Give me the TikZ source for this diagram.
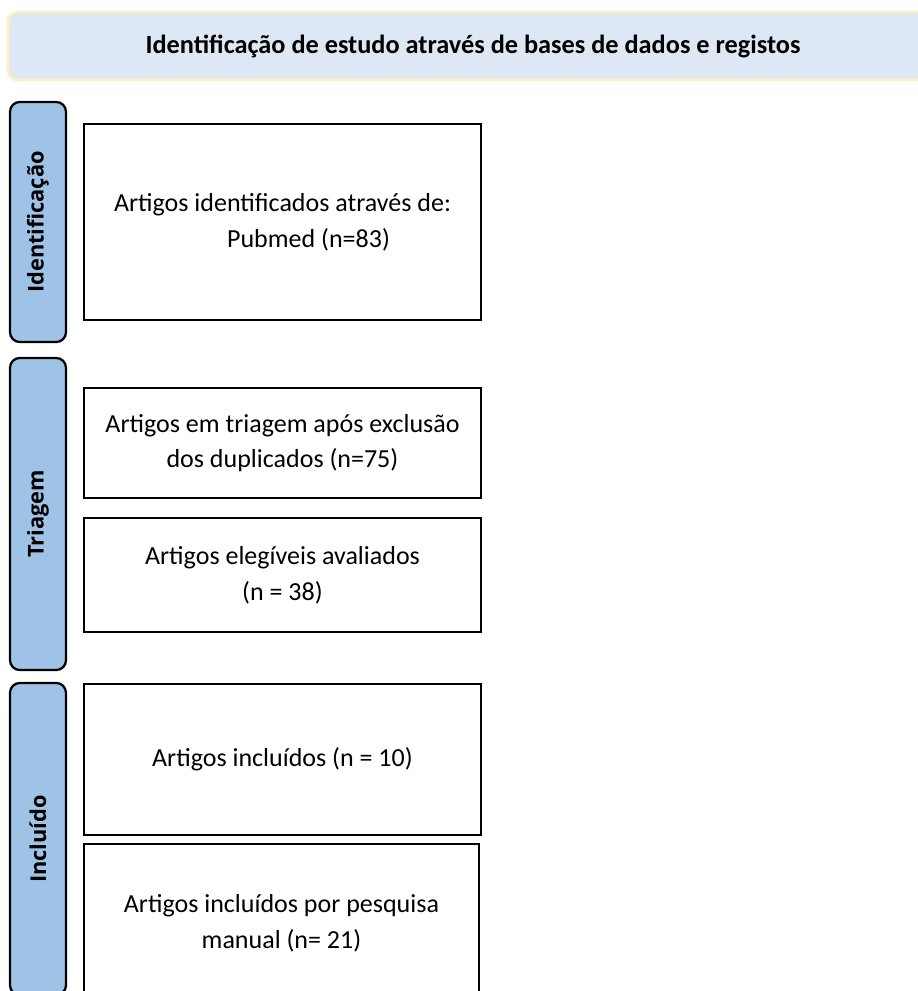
\documentclass[tikz,border=0pt]{standalone}
\usepackage{fontspec}
\setmainfont{Carlito}
\newfontfamily\phasefont{Open Sans}
\usetikzlibrary{positioning}
\definecolor{bannerfill}{HTML}{DEE8F4}
\definecolor{banneredge}{HTML}{FDEFC6}
\definecolor{phasefill}{HTML}{9FC3E7}
\tikzset{
	banner/.style={draw=banneredge, line width=2pt, fill=bannerfill, rounded corners=7pt,
		minimum width=23.25cm, minimum height=1.7cm, font=\bfseries\fontsize{18.7}{22}\selectfont},
	phase/.style={draw=black, line width=1.6pt, fill=phasefill, rounded corners=7pt,
		minimum height=1.4cm, rotate=90, font=\phasefont\bfseries\fontsize{15.5}{18}\selectfont},
	stepbox/.style={draw=black, line width=1.4pt, fill=white, minimum width=9.925cm,
		align=center, font=\fontsize{18.5}{25.5}\selectfont},
}
\begin{document}
\begin{tikzpicture}[x=0.025cm, y=-0.025cm]
	\useasboundingbox (0,0) rectangle (917,991);
	%header
	\node[banner] (head) at (473,46) {Identificação de estudo através de bases de dados e registos};
	%phases
	\node[phase, minimum width=6cm] (idphase) at (38,222) {Identificação};
	\node[phase, minimum width=7.8cm] (triphase) at (38,514) {Triagem};
	\node[phase, minimum width=7.8cm] (incphase) at (38,839) {Incluído};
	%boxes
	\node[stepbox, minimum height=4.9cm] (found) at (282.5,222) {Artigos identificados através de:\\ \quad\quad Pubmed (n=83)};
	\node[stepbox, minimum height=2.75cm] (screened) at (282.5,443) {Artigos em triagem após exclusão\\dos duplicados (n=75)};
	\node[stepbox, minimum height=2.85cm] (eligible) at (282.5,575) {Artigos elegíveis avaliados\\(n = 38)};
	\node[stepbox, minimum height=3.775cm] (included) at (282.5,759.5) {Artigos incluídos (n = 10)};
	\node[stepbox, minimum height=3.95cm, minimum width=9.875cm] (manual) at (281.5,923) {Artigos incluídos por pesquisa\\manual (n= 21)};
\end{tikzpicture}
\end{document}
